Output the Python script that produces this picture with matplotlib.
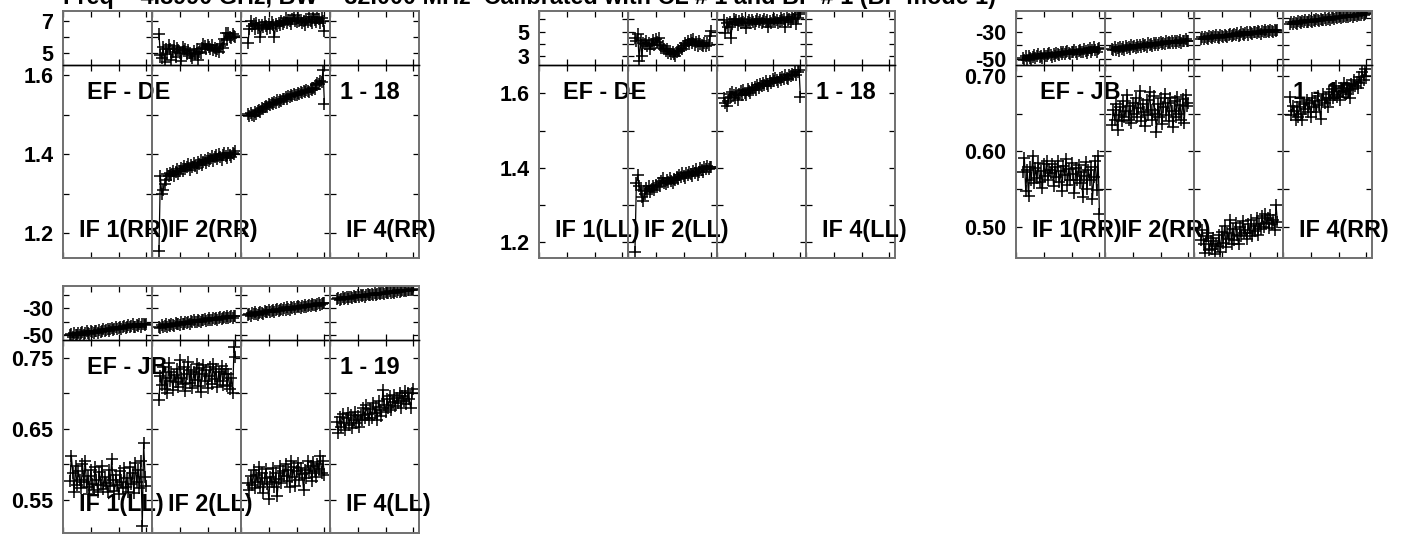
import matplotlib
matplotlib.use("Agg")
import matplotlib.pyplot as plt
from matplotlib.ticker import FixedLocator

plt.rcParams['font.family'] = ['Liberation Sans', 'DejaVu Sans']
plt.rcParams['font.weight'] = 'bold'

# ---------------- data ----------------
title = "Freq = 4.8990 GHz, BW = 32.000 MHz  Calibrated with CL # 1 and BP # 1 (BP mode 1)"
channels = list(range(5, 61))
if_names = ["IF 1", "IF 2", "IF 3", "IF 4"]
if_labels_shown = [True, True, False, True]

# EF - DE, RR
de_rr_if2_amp = [1.155, 1.345, 1.300, 1.310, 1.325, 1.335, 1.350, 1.345,
                 1.352, 1.348, 1.358, 1.345, 1.355, 1.362, 1.350, 1.358,
                 1.365, 1.358, 1.370, 1.362, 1.368, 1.375, 1.360, 1.372,
                 1.368, 1.378, 1.370, 1.365, 1.380, 1.375, 1.385, 1.372,
                 1.380, 1.386, 1.378, 1.390, 1.382, 1.388, 1.395, 1.384,
                 1.392, 1.398, 1.388, 1.400, 1.393, 1.386, 1.398, 1.402,
                 1.395, 1.390, 1.402, 1.398, 1.392, 1.404, 1.400, 1.407]
de_rr_if2_ph = [6.20, 4.90, 4.70, 5.40, 4.45, 5.30, 4.95, 5.50,
                5.25, 4.60, 5.10, 5.45, 4.75, 5.35, 5.20, 5.05,
                4.50, 5.40, 5.15, 5.30, 4.95, 5.20, 5.05, 4.85,
                4.70, 5.15, 4.95, 5.25, 4.60, 5.10, 5.00, 5.35,
                5.60, 5.45, 5.25, 5.55, 5.40, 5.30, 5.50, 5.20,
                5.35, 5.15, 5.25, 5.10, 5.45, 5.60, 5.35, 5.90,
                6.25, 5.85, 6.30, 6.05, 5.95, 6.20, 6.10, 6.00]
de_rr_if3_amp = [1.503, 1.498, 1.505, 1.500, 1.497, 1.506, 1.503, 1.510,
                 1.512, 1.508, 1.517, 1.514, 1.520, 1.523, 1.519, 1.526,
                 1.524, 1.529, 1.527, 1.533, 1.530, 1.536, 1.533, 1.538,
                 1.535, 1.541, 1.539, 1.544, 1.541, 1.547, 1.545, 1.550,
                 1.548, 1.553, 1.551, 1.549, 1.555, 1.552, 1.558, 1.556,
                 1.561, 1.558, 1.563, 1.560, 1.557, 1.565, 1.562, 1.568,
                 1.566, 1.574, 1.580, 1.577, 1.586, 1.584, 1.612, 1.527]
de_rr_if3_ph = [5.63, 6.50, 7.05, 6.70, 6.85, 6.55, 6.90, 6.60,
                6.75, 6.05, 6.80, 6.65, 6.95, 6.70, 6.55, 6.85,
                6.60, 6.95, 6.75, 6.00, 6.85, 6.70, 6.90, 6.80,
                7.05, 6.85, 6.95, 7.20, 6.90, 7.10, 7.00, 6.85,
                7.15, 7.40, 7.05, 6.95, 7.20, 7.00, 7.10, 6.90,
                7.05, 6.80, 7.15, 6.95, 7.25, 7.05, 6.90, 7.45,
                7.10, 6.95, 7.30, 7.15, 6.90, 7.20, 7.05, 6.40]

# EF - DE, LL
de_ll_if2_amp = [1.175, 1.358, 1.380, 1.352, 1.340, 1.322, 1.312, 1.330,
                 1.345, 1.338, 1.350, 1.335, 1.342, 1.352, 1.340, 1.355,
                 1.348, 1.360, 1.352, 1.365, 1.372, 1.360, 1.356, 1.368,
                 1.362, 1.372, 1.365, 1.358, 1.370, 1.366, 1.375, 1.370,
                 1.380, 1.374, 1.385, 1.378, 1.372, 1.386, 1.380, 1.390,
                 1.384, 1.378, 1.392, 1.386, 1.396, 1.382, 1.390, 1.400,
                 1.394, 1.388, 1.402, 1.396, 1.405, 1.398, 1.402, 1.403]
de_ll_if2_ph = [4.50, 4.20, 4.80, 2.65, 4.35, 3.05, 4.10, 4.00,
                4.25, 3.85, 4.10, 3.60, 4.00, 4.30, 3.90, 4.40,
                4.15, 4.45, 3.95, 3.70, 3.80, 3.55, 3.40, 3.60,
                3.30, 3.45, 3.15, 3.35, 3.20, 3.05, 3.35, 3.50,
                3.40, 3.70, 3.55, 3.80, 4.05, 3.90, 4.20, 4.00,
                4.35, 4.10, 4.40, 3.90, 4.15, 3.85, 4.25, 4.00,
                3.90, 3.80, 4.10, 3.85, 4.05, 3.90, 4.60, 5.05]
de_ll_if3_amp = [1.586, 1.575, 1.565, 1.580, 1.598, 1.590, 1.603, 1.596,
                 1.588, 1.600, 1.582, 1.598, 1.605, 1.594, 1.610, 1.602,
                 1.596, 1.612, 1.605, 1.600, 1.614, 1.608, 1.618, 1.610,
                 1.622, 1.615, 1.625, 1.619, 1.628, 1.622, 1.632, 1.626,
                 1.620, 1.634, 1.628, 1.638, 1.632, 1.642, 1.636, 1.630,
                 1.640, 1.635, 1.644, 1.638, 1.648, 1.642, 1.637, 1.650,
                 1.646, 1.653, 1.648, 1.656, 1.650, 1.658, 1.662, 1.590]
de_ll_if3_ph = [5.95, 4.90, 5.70, 5.35, 5.80, 4.50, 5.60, 6.00,
                5.75, 5.90, 5.55, 5.85, 5.70, 6.05, 5.80, 5.65,
                5.30, 5.75, 5.90, 5.70, 5.95, 5.80, 5.60, 5.85,
                6.05, 5.75, 5.90, 5.65, 5.85, 6.00, 5.80, 5.95,
                5.35, 5.85, 5.70, 5.90, 6.05, 5.80, 5.95, 5.70,
                5.85, 6.10, 5.90, 6.00, 5.40, 6.15, 5.95, 6.05,
                5.80, 6.20, 6.00, 6.35, 5.60, 6.10, 6.45, 6.55]

# EF - JB, RR
jb_rr_if1_amp = [0.573, 0.592, 0.548, 0.575, 0.541, 0.580, 0.562, 0.594,
                 0.558, 0.578, 0.565, 0.585, 0.560, 0.574, 0.552, 0.583,
                 0.568, 0.587, 0.562, 0.576, 0.571, 0.584, 0.555, 0.579,
                 0.566, 0.588, 0.560, 0.574, 0.548, 0.581, 0.569, 0.590,
                 0.556, 0.577, 0.562, 0.585, 0.570, 0.545, 0.578, 0.563,
                 0.582, 0.558, 0.573, 0.540, 0.568, 0.586, 0.551, 0.575,
                 0.562, 0.580, 0.538, 0.566, 0.588, 0.549, 0.594, 0.517]
jb_rr_if1_ph = [-49.5, -51.0, -48.0, -50.5, -47.5, -49.0, -50.0, -48.5,
                -47.0, -49.5, -48.0, -46.5, -48.5, -47.5, -49.0, -46.0,
                -47.5, -48.0, -46.5, -45.5, -47.0, -48.5, -46.0, -47.5,
                -45.5, -46.5, -47.0, -45.0, -46.0, -44.5, -46.5, -45.0,
                -44.0, -45.5, -46.5, -44.5, -45.0, -43.5, -45.0, -46.0,
                -44.0, -43.0, -45.0, -44.5, -42.5, -44.0, -45.5, -43.5,
                -42.0, -44.5, -43.0, -41.5, -43.5, -45.0, -42.5, -42.0]
jb_rr_if2_amp = [0.635, 0.655, 0.642, 0.662, 0.628, 0.648, 0.659, 0.640,
                 0.667, 0.645, 0.653, 0.675, 0.642, 0.660, 0.638, 0.664,
                 0.650, 0.671, 0.645, 0.657, 0.680, 0.640, 0.662, 0.652,
                 0.633, 0.668, 0.648, 0.679, 0.655, 0.641, 0.673, 0.650,
                 0.626, 0.662, 0.645, 0.670, 0.636, 0.658, 0.676, 0.648,
                 0.664, 0.640, 0.671, 0.653, 0.632, 0.666, 0.645, 0.672,
                 0.650, 0.661, 0.642, 0.669, 0.638, 0.675, 0.660, 0.664]
jb_rr_if2_ph = [-42.5, -43.5, -41.5, -43.0, -42.0, -44.0, -41.0, -42.5,
                -41.5, -43.0, -40.5, -42.0, -41.0, -42.5, -40.0, -41.5,
                -40.5, -42.0, -39.5, -41.0, -40.0, -41.5, -39.0, -40.5,
                -39.5, -41.0, -38.5, -40.0, -39.0, -40.5, -38.5, -39.5,
                -38.0, -39.5, -38.5, -37.5, -39.0, -38.0, -39.0, -37.0,
                -38.5, -37.5, -38.0, -36.5, -38.0, -37.0, -38.5, -36.5,
                -37.5, -36.0, -38.0, -36.5, -37.0, -35.5, -37.0, -36.5]
jb_rr_if3_amp = [0.483, 0.496, 0.478, 0.466, 0.488, 0.492, 0.470, 0.482,
                 0.472, 0.486, 0.465, 0.478, 0.475, 0.490, 0.468, 0.494,
                 0.480, 0.502, 0.474, 0.492, 0.485, 0.510, 0.478, 0.498,
                 0.483, 0.506, 0.490, 0.478, 0.500, 0.488, 0.509, 0.493,
                 0.497, 0.484, 0.505, 0.492, 0.510, 0.488, 0.502, 0.495,
                 0.512, 0.490, 0.505, 0.498, 0.515, 0.500, 0.518, 0.506,
                 0.512, 0.499, 0.516, 0.504, 0.510, 0.496, 0.529, 0.507]
jb_rr_if3_ph = [-35.0, -34.0, -35.5, -33.5, -34.5, -35.0, -33.0, -34.0,
                -34.5, -33.0, -34.0, -32.5, -33.5, -34.5, -32.5, -33.0,
                -33.5, -32.0, -33.0, -34.0, -32.0, -31.5, -33.0, -32.5,
                -31.5, -32.5, -31.0, -33.0, -32.0, -30.5, -31.5, -32.0,
                -31.0, -30.5, -32.0, -30.0, -31.0, -31.5, -30.0, -30.5,
                -31.0, -29.5, -30.5, -31.5, -29.5, -30.0, -29.0, -30.5,
                -29.5, -30.5, -28.5, -29.5, -30.0, -28.5, -29.5, -29.0]
jb_rr_if4_amp = [0.672, 0.648, 0.660, 0.654, 0.641, 0.658, 0.646, 0.665,
                 0.650, 0.641, 0.662, 0.656, 0.668, 0.652, 0.664, 0.645,
                 0.670, 0.658, 0.666, 0.652, 0.673, 0.661, 0.643, 0.668,
                 0.676, 0.664, 0.671, 0.659, 0.678, 0.668, 0.682, 0.670,
                 0.675, 0.686, 0.672, 0.680, 0.668, 0.684, 0.678, 0.690,
                 0.676, 0.687, 0.681, 0.671, 0.689, 0.683, 0.694, 0.686,
                 0.692, 0.684, 0.698, 0.690, 0.705, 0.694, 0.709, 0.700]
jb_rr_if4_ph = [-24.0, -23.0, -24.5, -22.5, -23.5, -24.0, -22.0, -23.0,
                -23.5, -22.0, -23.0, -21.5, -22.5, -23.0, -21.5, -22.0,
                -22.5, -21.0, -22.0, -20.5, -21.5, -22.0, -20.5, -21.0,
                -21.5, -20.0, -21.0, -20.5, -19.5, -21.0, -20.0, -19.5,
                -20.5, -19.0, -20.0, -19.5, -18.5, -20.0, -19.0, -18.5,
                -19.5, -18.0, -19.0, -18.5, -17.5, -19.0, -18.0, -17.5,
                -18.5, -17.0, -18.0, -17.5, -16.5, -18.0, -17.0, -16.0]

# EF - JB, LL
jb_ll_if1_amp = [0.576, 0.612, 0.588, 0.561, 0.598, 0.570, 0.590, 0.578,
                 0.566, 0.600, 0.575, 0.605, 0.568, 0.584, 0.558, 0.592,
                 0.572, 0.563, 0.596, 0.578, 0.560, 0.589, 0.570, 0.597,
                 0.565, 0.582, 0.574, 0.560, 0.592, 0.569, 0.608, 0.577,
                 0.562, 0.585, 0.571, 0.558, 0.590, 0.575, 0.566, 0.594,
                 0.568, 0.580, 0.561, 0.596, 0.572, 0.588, 0.559, 0.601,
                 0.575, 0.592, 0.566, 0.605, 0.512, 0.630, 0.582, 0.569]
jb_ll_if1_ph = [-50.0, -49.0, -51.0, -48.5, -50.0, -49.5, -48.0, -50.0,
                -48.5, -47.5, -49.5, -48.0, -47.0, -48.5, -49.0, -47.0,
                -47.5, -48.5, -46.5, -47.0, -48.0, -46.0, -47.5, -46.5,
                -45.5, -47.0, -46.0, -45.0, -46.5, -45.5, -44.5, -46.0,
                -45.0, -44.0, -45.5, -44.5, -43.5, -45.0, -44.0, -43.0,
                -44.5, -43.5, -42.5, -44.0, -43.0, -42.0, -43.5, -44.0,
                -42.5, -43.0, -41.5, -43.5, -42.0, -41.5, -42.5, -42.0]
jb_ll_if2_amp = [0.691, 0.724, 0.712, 0.738, 0.706, 0.722, 0.700, 0.743,
                 0.718, 0.731, 0.705, 0.726, 0.716, 0.735, 0.709, 0.748,
                 0.722, 0.713, 0.738, 0.704, 0.727, 0.745, 0.715, 0.733,
                 0.708, 0.730, 0.719, 0.741, 0.711, 0.736, 0.702, 0.728,
                 0.740, 0.717, 0.733, 0.708, 0.725, 0.738, 0.714, 0.742,
                 0.721, 0.735, 0.709, 0.730, 0.718, 0.739, 0.712, 0.727,
                 0.734, 0.710, 0.728, 0.706, 0.722, 0.700, 0.766, 0.752]
jb_ll_if2_ph = [-43.5, -44.5, -42.5, -44.0, -43.0, -42.0, -43.5, -42.5,
                -43.0, -41.5, -42.5, -43.0, -41.0, -42.0, -41.5, -42.5,
                -40.5, -41.5, -42.0, -40.0, -41.0, -40.5, -41.5, -39.5,
                -40.5, -39.0, -40.0, -40.5, -38.5, -39.5, -40.0, -38.5,
                -39.0, -38.0, -39.5, -38.5, -37.5, -38.5, -39.0, -37.5,
                -38.0, -37.0, -38.5, -37.5, -36.5, -38.0, -37.0, -36.5,
                -37.5, -36.0, -37.0, -36.5, -35.5, -37.0, -36.0, -36.0]
jb_ll_if3_amp = [0.573, 0.564, 0.583, 0.570, 0.592, 0.566, 0.585, 0.575,
                 0.596, 0.568, 0.588, 0.559, 0.580, 0.593, 0.572, 0.551,
                 0.582, 0.575, 0.594, 0.568, 0.587, 0.555, 0.579, 0.598,
                 0.573, 0.590, 0.584, 0.600, 0.576, 0.592, 0.568, 0.604,
                 0.582, 0.596, 0.569, 0.590, 0.602, 0.578, 0.594, 0.586,
                 0.563, 0.592, 0.580, 0.605, 0.587, 0.598, 0.576, 0.603,
                 0.590, 0.582, 0.600, 0.593, 0.611, 0.588, 0.604, 0.585]
jb_ll_if3_ph = [-35.0, -34.0, -35.5, -33.5, -34.5, -33.0, -34.0, -35.0,
                -33.5, -32.5, -33.5, -34.0, -32.0, -33.0, -32.5, -31.5,
                -33.0, -32.0, -31.0, -32.5, -31.5, -30.5, -32.0, -31.0,
                -30.5, -31.5, -30.0, -31.0, -29.5, -30.5, -31.0, -29.5,
                -30.0, -29.0, -30.5, -29.5, -28.5, -29.5, -30.0, -28.5,
                -29.0, -28.0, -29.5, -28.5, -27.5, -28.5, -27.0, -28.0,
                -27.5, -28.5, -27.0, -26.5, -28.0, -27.0, -26.0, -26.5]
jb_ll_if4_amp = [0.660, 0.644, 0.667, 0.652, 0.671, 0.658, 0.648, 0.665,
                 0.672, 0.655, 0.669, 0.651, 0.662, 0.674, 0.658, 0.668,
                 0.653, 0.670, 0.663, 0.680, 0.666, 0.684, 0.671, 0.663,
                 0.678, 0.666, 0.686, 0.672, 0.681, 0.663, 0.690, 0.676,
                 0.668, 0.705, 0.684, 0.674, 0.692, 0.680, 0.696, 0.677,
                 0.688, 0.698, 0.682, 0.694, 0.686, 0.700, 0.679, 0.697,
                 0.690, 0.703, 0.685, 0.700, 0.692, 0.679, 0.700, 0.707]
jb_ll_if4_ph = [-23.5, -22.5, -24.0, -23.0, -22.0, -23.5, -22.5, -21.5,
                -23.0, -22.0, -21.5, -22.5, -21.0, -22.0, -21.5, -20.5,
                -21.5, -20.5, -21.0, -20.0, -21.5, -20.5, -19.5, -20.5,
                -20.0, -19.5, -20.5, -19.0, -20.0, -19.5, -18.5, -19.5,
                -19.0, -18.5, -19.5, -18.0, -19.0, -18.5, -17.5, -18.5,
                -18.0, -18.5, -17.5, -18.0, -17.0, -18.0, -17.5, -16.5,
                -17.5, -16.5, -17.5, -17.0, -16.5, -17.0, -16.0, -16.5]

panel_baselines = ["EF - DE", "EF - DE", "EF - JB", "EF - JB"]
panel_times = ["1 - 18", "1 - 18", "1 - 19", "1 - 19"]
panel_pols = ["RR", "LL", "RR", "LL"]
panel_amps = [[None, de_rr_if2_amp, de_rr_if3_amp, None],
              [None, de_ll_if2_amp, de_ll_if3_amp, None],
              [jb_rr_if1_amp, jb_rr_if2_amp, jb_rr_if3_amp, jb_rr_if4_amp],
              [jb_ll_if1_amp, jb_ll_if2_amp, jb_ll_if3_amp, jb_ll_if4_amp]]
panel_phases = [[None, de_rr_if2_ph, de_rr_if3_ph, None],
                [None, de_ll_if2_ph, de_ll_if3_ph, None],
                [jb_rr_if1_ph, jb_rr_if2_ph, jb_rr_if3_ph, jb_rr_if4_ph],
                [jb_ll_if1_ph, jb_ll_if2_ph, jb_ll_if3_ph, jb_ll_if4_ph]]
ph_ticks = [[5, 6, 7], [3, 4, 5, 6], [-50, -40, -30, -20], [-50, -40, -30, -20]]
ph_labels = [[5, 7], [3, 5], [-50, -30], [-50, -30]]
amp_ticks = [[1.2, 1.3, 1.4, 1.5, 1.6], [1.2, 1.3, 1.4, 1.5, 1.6],
             [0.50, 0.55, 0.60, 0.65, 0.70], [0.55, 0.60, 0.65, 0.70, 0.75]]
amp_labels = [[1.2, 1.4, 1.6], [1.2, 1.4, 1.6], [0.50, 0.60, 0.70], [0.55, 0.65, 0.75]]
amp_fmt = ["{:.1f}", "{:.1f}", "{:.2f}", "{:.2f}"]
x_ticks = [0, 20, 40, 60]

# ---------------- layout (pixels) ----------------
W, H = 1406, 534
fig = plt.figure(figsize=(W / 100, H / 100), dpi=100)

# left, right, top, middle (strip/amp boundary), bottom
panel_rects = [(63, 419, 11.5, 65.3, 258),
               (539, 895, 11.5, 65.3, 258),
               (1016, 1372, 11.5, 65.3, 258),
               (63, 419, 286, 340, 533)]
ph_lims = [(4.25, 7.62), (2.27, 6.62), (-54.6, -15.1), (-53.4, -13.7)]
amp_lims = [(1.1375, 1.625), (1.158, 1.675), (0.4596, 0.7136), (0.5027, 0.7756)]

FS_TICK = 15.5
FS_LAB = 16.8
SPINE_C = "#707070"


def px_axes(l, t, r, b):
    return fig.add_axes([l / W, 1 - b / H, (r - l) / W, (b - t) / H])


def style(ax, ylim, yt, ylab, fmt, first, is_top):
    ax.set_xlim(0, 64)
    ax.set_ylim(*ylim)
    ax.xaxis.set_major_locator(FixedLocator(x_ticks))
    ax.yaxis.set_major_locator(FixedLocator(yt))
    ax.set_xticklabels([])
    if first:
        labs = [fmt.format(v) if any(abs(v - u) < 1e-9 for u in ylab) else "" for v in yt]
        ax.set_yticklabels(labs)
    else:
        ax.set_yticklabels([])
    ax.tick_params(axis="both", which="both", direction="in", length=4.5, width=0.9,
                   color="black", top=True, right=True, bottom=True, left=True,
                   labelsize=FS_TICK, pad=7)
    for s in ax.spines.values():
        s.set_color(SPINE_C)
        s.set_linewidth(1.4)
    if is_top:
        ax.spines["bottom"].set_color("black")
        ax.spines["bottom"].set_linewidth(1.0)
    else:
        ax.spines["top"].set_color("black")
        ax.spines["top"].set_linewidth(1.0)
    ax.patch.set_alpha(0)


for p in range(4):
    L, R, T, M, B = panel_rects[p]
    cw = (R - L) / 4
    hb = B - M
    for i in range(4):
        cl = L + i * cw
        cr = cl + cw
        axt = px_axes(cl, T, cr, M)
        axb = px_axes(cl, M, cr, B)
        style(axt, ph_lims[p], ph_ticks[p], ph_labels[p], "{:d}", i == 0, True)
        style(axb, amp_lims[p], amp_ticks[p], amp_labels[p], amp_fmt[p], i == 0, False)
        for ax, d in ((axt, panel_phases[p][i]), (axb, panel_amps[p][i])):
            if d is not None:
                ax.plot(channels, d, color="black", lw=0.9, marker="+", ms=8,
                        mew=1.1, mec="black", zorder=2)
        if i == 0:
            axb.text(24 / cw, 1 - 27 / hb, panel_baselines[p], transform=axb.transAxes,
                     fontsize=FS_LAB, fontweight="bold", va="center", ha="left",
                     zorder=5, clip_on=False)
        if i == 3:
            axb.text(10 / cw, 1 - 27 / hb, panel_times[p], transform=axb.transAxes,
                     fontsize=FS_LAB, fontweight="bold", va="center", ha="left", zorder=5)
        if if_labels_shown[i]:
            axb.text(16 / cw, 28 / hb, f"{if_names[i]}({panel_pols[p]})",
                     transform=axb.transAxes, fontsize=FS_LAB, fontweight="bold",
                     va="center", ha="left", zorder=5, clip_on=False)

fig.text(63 / W, 1 - 4 / H, title, fontsize=FS_LAB, fontweight="bold",
         ha="left", va="baseline")

fig.savefig("out.png", dpi=100)
